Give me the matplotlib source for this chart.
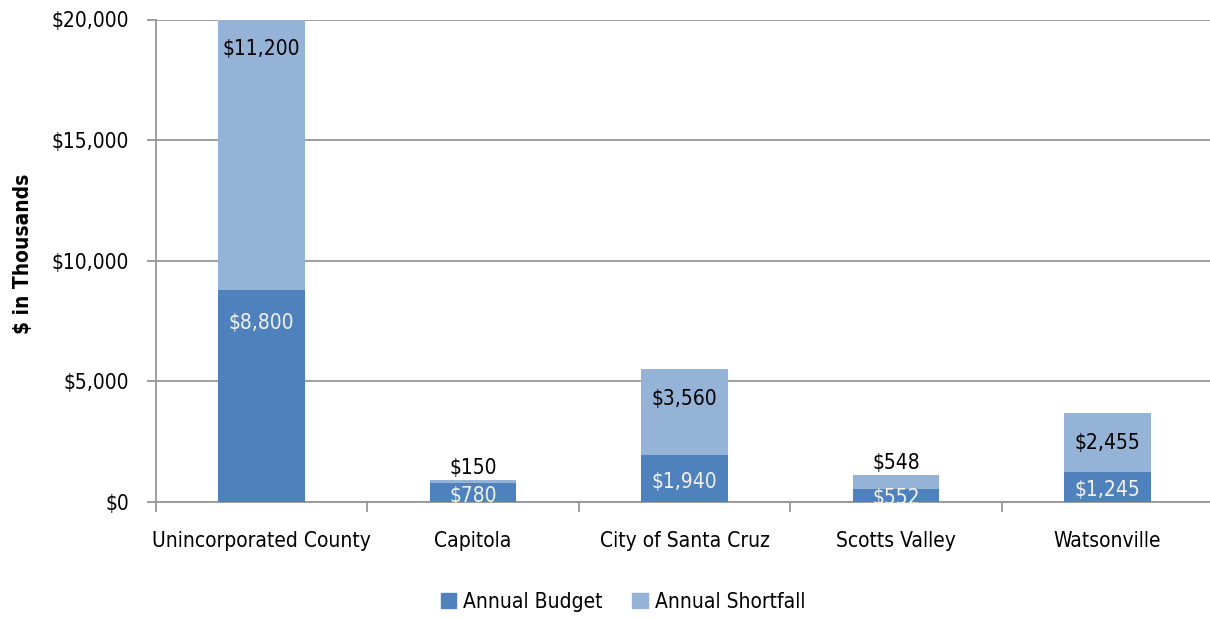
import matplotlib
matplotlib.use("Agg")
import matplotlib.pyplot as plt
from matplotlib.patches import Patch
import numpy as np

plt.rcParams['font.family'] = ['DejaVu Sans']
plt.rcParams['font.stretch'] = 'condensed'

categories = ["Unincorporated County", "Capitola", "City of Santa Cruz", "Scotts Valley", "Watsonville"]
budget = [8800, 780, 1940, 552, 1245]
shortfall = [11200, 150, 3560, 548, 2455]
yticks = [0, 5000, 10000, 15000, 20000]
ytick_labels = ["$0", "$5,000", "$10,000", "$15,000", "$20,000"]

C_BUD = '#4F81BD'
C_SHO = '#95B3D7'
GRID = '#969696'
FS = 15
PX = 0.72  # points per pixel at 100 dpi

W, H = 1210, 618
fig = plt.figure(figsize=(W / 100, H / 100), dpi=100)
L, R, T, B = 156, 1213, 19.5, 502
ax = fig.add_axes([L / W, 1 - B / H, (R - L) / W, (B - T) / H])

x = np.arange(len(categories))
bw = 0.41
ax.bar(x, budget, bw, color=C_BUD, zorder=3)
ax.bar(x, shortfall, bw, bottom=budget, color=C_SHO, zorder=3)

ax.set_xlim(-0.5, len(categories) - 0.5)
ax.set_ylim(0, 20000)
ax.set_yticks(yticks)
ax.set_yticklabels(ytick_labels, fontsize=FS)
ax.yaxis.grid(True, color=GRID, lw=1.3, zorder=0)
ax.set_axisbelow(True)

for s in ['top', 'right']:
    ax.spines[s].set_visible(False)
for s in ['left', 'bottom']:
    ax.spines[s].set_color(GRID)
    ax.spines[s].set_linewidth(1.3)
ax.tick_params(axis='y', length=9 * PX, width=1.3, color=GRID, pad=18 * PX)

# category separators as major ticks, labels as minor ticks
ax.set_xticks(np.arange(-0.5, len(categories), 1.0))
ax.set_xticklabels([])
ax.tick_params(axis='x', which='major', length=10 * PX, width=1.3, color=GRID)
ax.set_xticks(x, minor=True)
ax.set_xticklabels(categories, minor=True, fontsize=FS)
ax.tick_params(axis='x', which='minor', length=0, pad=21)

ax.set_ylabel("$ in Thousands", fontsize=FS, fontweight='bold')
ax.yaxis.set_label_coords((33 - L) / (R - L), (B - 254) / (B - T))

# data labels
ppx = 20000 / (B - T)  # data units per pixel
for i in range(len(categories)):
    b = budget[i]
    s = shortfall[i]
    yb = max(b - 33 * ppx, b / 2 - 3 * ppx)
    ax.text(x[i], yb, f"${b:,}", ha='center', va='center', fontsize=FS,
            color='#F2F2EA', zorder=5)
    top_s = b + s
    if s / ppx > 40:
        ys = top_s - 30 * ppx
    else:
        ys = top_s + 12 * ppx
    ax.text(x[i], ys, f"${s:,}", ha='center', va='center', fontsize=FS,
            color='black', zorder=5)

handles = [Patch(color=C_BUD, label="Annual Budget"), Patch(color=C_SHO, label="Annual Shortfall")]
fig.legend(handles=handles, loc='center', bbox_to_anchor=(623 / W, 1 - 602 / H), ncol=2,
           frameon=False, fontsize=FS, handlelength=0.75, handleheight=0.75,
           handletextpad=0.35, columnspacing=1.4)

fig.savefig("out.png", dpi=100)
